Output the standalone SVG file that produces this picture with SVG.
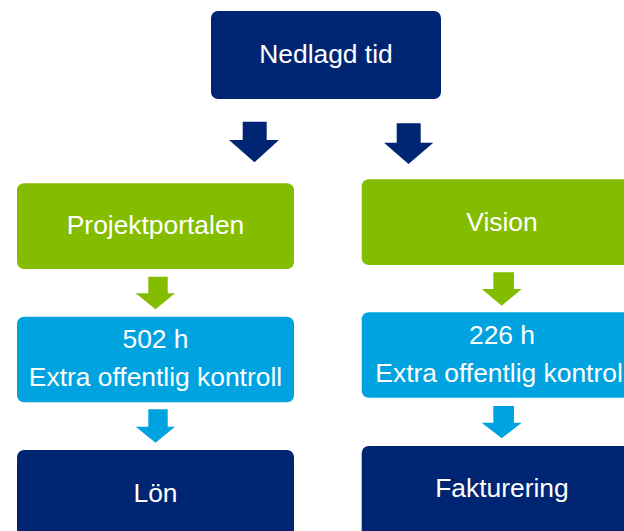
<svg xmlns="http://www.w3.org/2000/svg" width="624" height="531" viewBox="0 0 624 531">
<style>
.navy{fill:#002673}
.green{fill:#84BD00}
.blue{fill:#00A3E0}
text{font-family:"Liberation Sans",Arial,sans-serif;font-size:26.4px;fill:#ffffff;text-anchor:middle}
</style>
<rect width="624" height="531" fill="#ffffff"/>
<g id="connectors">
<polygon class="navy" points="242.7,121.7 266.7,121.7 266.7,140 279,140 254.5,162.3 229,140 242.7,140"/>
<polygon class="navy" points="396.7,123.3 420.7,123.3 420.7,142.7 433.3,142.7 408.5,164 384,142.7 396.7,142.7"/>
<polygon class="green" points="148.3,276.7 167.7,276.7 167.7,293.3 175,293.3 155.5,309.3 135.7,293.3 148.3,293.3"/>
<polygon class="green" points="493.3,272.3 514,272.3 514,289 521.7,289 501.7,305.7 481.7,289 493.3,289"/>
<polygon class="blue" points="148.3,409.3 167.7,409.3 167.7,426.7 175,426.7 155.5,442.7 135.7,426.7 148.3,426.7"/>
<polygon class="blue" points="493.3,406 514,406 514,422.7 521.7,422.7 501.7,438.3 481.7,422.7 493.3,422.7"/>
</g>
<g id="nedlagd">
<rect class="navy" x="211" y="11" width="230" height="88" rx="7"/>
<text x="326" y="63">Nedlagd tid</text>
</g>
<g id="projektportalen">
<rect class="green" x="17" y="183.3" width="277" height="85.7" rx="7"/>
<text x="155.5" y="234.3">Projektportalen</text>
</g>
<g id="vision">
<rect class="green" x="361.7" y="179.3" width="280" height="85.7" rx="7"/>
<text x="502" y="231">Vision</text>
</g>
<g id="kontroll-left">
<rect class="blue" x="17" y="316.7" width="277" height="85.6" rx="7"/>
<text x="155.5" y="348.3">502 h</text>
<text x="155.5" y="386">Extra offentlig kontroll</text>
</g>
<g id="kontroll-right">
<rect class="blue" x="361.7" y="312.3" width="280" height="85.4" rx="7"/>
<text x="502" y="344.3">226 h</text>
<text x="502" y="381.7">Extra offentlig kontroll</text>
</g>
<g id="lon">
<rect class="navy" x="17" y="450" width="277" height="95" rx="7"/>
<text x="155.5" y="501.7">Lön</text>
</g>
<g id="fakturering">
<rect class="navy" x="361.7" y="446" width="280" height="95" rx="7"/>
<text x="502" y="496.7">Fakturering</text>
</g>
</svg>
